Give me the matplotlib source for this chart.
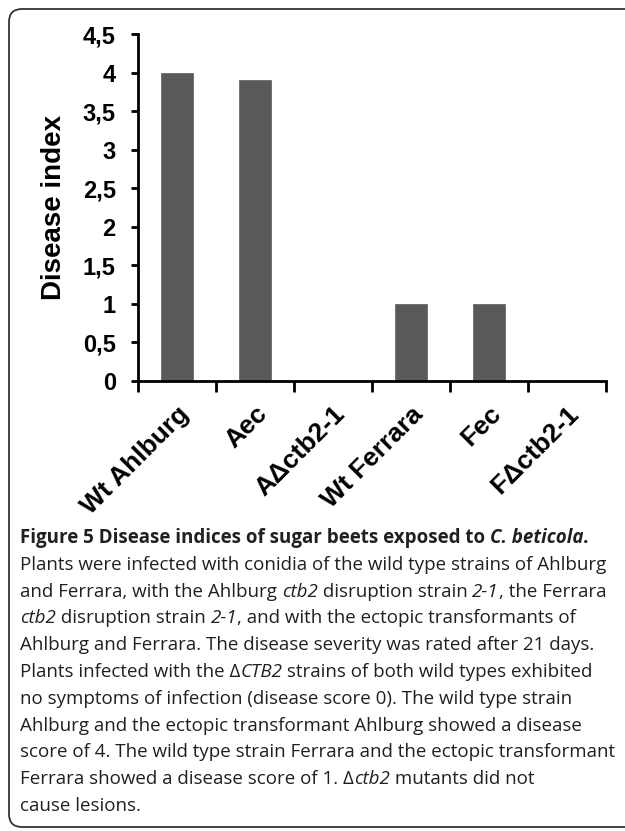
import numpy as np
import matplotlib.pyplot as plt
from matplotlib.patches import FancyBboxPatch

# data
strains = ['Wt Ahlburg', 'Aec', 'A\u0394ctb2-1', 'Wt Ferrara', 'Fec', 'F\u0394ctb2-1']
disease_index = [4.0, 3.9, 0.0, 1.0, 1.0, 0.0]
yticks = [0, 0.5, 1, 1.5, 2, 2.5, 3, 3.5, 4, 4.5]
ytick_labels = ['0', '0,5', '1', '1,5', '2', '2,5', '3', '3,5', '4', '4,5']

caption = [
    [('Figure 5 Disease indices of sugar beets exposed to ', 'bold', 'normal'),
     ('C. beticola', 'bold', 'italic'), ('.', 'bold', 'normal')],
    [('Plants were infected with conidia of the wild type strains of Ahlburg', 'normal', 'normal')],
    [('and Ferrara, with the Ahlburg ', 'normal', 'normal'), ('ctb2', 'normal', 'italic'),
     (' disruption strain ', 'normal', 'normal'), ('2-1', 'normal', 'italic'),
     (', the Ferrara', 'normal', 'normal')],
    [('ctb2', 'normal', 'italic'), (' disruption strain ', 'normal', 'normal'),
     ('2-1', 'normal', 'italic'), (', and with the ectopic transformants of', 'normal', 'normal')],
    [('Ahlburg and Ferrara. The disease severity was rated after 21 days.', 'normal', 'normal')],
    [('Plants infected with the \u0394', 'normal', 'normal'), ('CTB2', 'normal', 'italic'),
     (' strains of both wild types exhibited', 'normal', 'normal')],
    [('no symptoms of infection (disease score 0). The wild type strain', 'normal', 'normal')],
    [('Ahlburg and the ectopic transformant Ahlburg showed a disease', 'normal', 'normal')],
    [('score of 4. The wild type strain Ferrara and the ectopic transformant', 'normal', 'normal')],
    [('Ferrara showed a disease score of 1. \u0394', 'normal', 'normal'), ('ctb2', 'normal', 'italic'),
     (' mutants did not', 'normal', 'normal')],
    [('cause lesions.', 'normal', 'normal')],
]

W, H, DPI = 625, 831, 100
fig = plt.figure(figsize=(W / DPI, H / DPI), dpi=DPI)

# rounded frame around the figure (right side runs off the picture)
frame = FancyBboxPatch((9 / DPI, 4 / DPI), 7.0, (827 - 9) / DPI,
                       boxstyle='round,pad=0,rounding_size=0.13',
                       transform=fig.dpi_scale_trans, fill=False,
                       edgecolor='#333333', linewidth=1.3)
fig.patches.append(frame)

ax = fig.add_axes([138 / W, 1 - 381 / H, (606 - 138) / W, (381 - 34) / H])
x = np.arange(len(strains))
ax.bar(x, disease_index, width=0.4, color='#595959', edgecolor='#6a6a6a', linewidth=0.6)

ax.set_xlim(-0.5, len(strains) - 0.5)
ax.set_ylim(0, 4.5)
for s in ['top', 'right']:
    ax.spines[s].set_visible(False)
for s in ['left', 'bottom']:
    ax.spines[s].set_linewidth(2)

axfont = dict(family='Liberation Sans', weight='bold')
ax.set_yticks(yticks)
ax.set_yticklabels(ytick_labels, fontsize=17, **axfont)
ax.tick_params(axis='y', direction='out', length=5, width=2, pad=11)

ax.set_xticks(np.arange(len(strains) + 1) - 0.5)
ax.set_xticklabels([])
ax.tick_params(axis='x', which='major', direction='out', length=8, width=2)
ax.set_xticks(x, minor=True)
ax.set_xticklabels(strains, minor=True, rotation=45, ha='right', va='top',
                   rotation_mode='anchor', fontsize=19, **axfont)
ax.tick_params(axis='x', which='minor', length=0, pad=15)

ax.set_ylabel('Disease index', fontsize=20, labelpad=11, **axfont)

# caption with mixed styles, laid out run by run
fig.canvas.draw()
renderer = fig.canvas.get_renderer()
cap_size = 13.5
cap_x0 = 20
cap_y0 = 543
cap_step = 26.8


def run_width(s, weight, style):
    a = fig.text(0, 0, 'X' + s + 'X', fontsize=cap_size, family='Open Sans',
                 weight=weight, style=style)
    b = fig.text(0, 0, 'XX', fontsize=cap_size, family='Open Sans',
                 weight=weight, style=style)
    w = a.get_window_extent(renderer).width - b.get_window_extent(renderer).width
    a.remove()
    b.remove()
    return w


for i, line in enumerate(caption):
    xpix = cap_x0
    ypix = H - (cap_y0 + i * cap_step)
    for s, weight, style in line:
        fig.text(xpix / W, ypix / H, s, fontsize=cap_size, family='Open Sans',
                 weight=weight, style=style, color='#231f20', va='baseline')
        xpix += run_width(s, weight, style)

fig.savefig('out.png', dpi=DPI)
